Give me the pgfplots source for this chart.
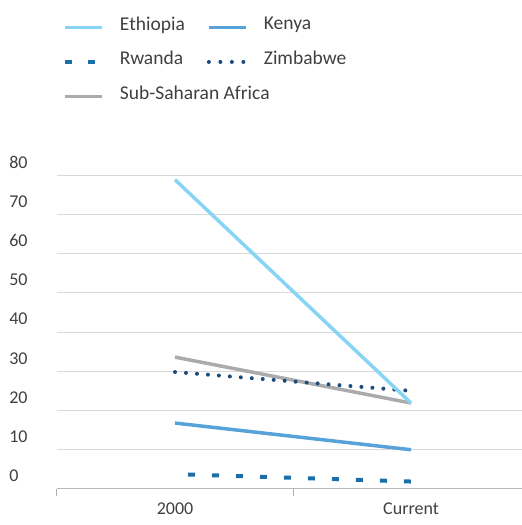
\documentclass[border=0pt]{standalone}
\usepackage{pgfplots}
\pgfplotsset{compat=1.18}
\usepackage{fontspec}
\setmainfont{Carlito}
\definecolor{eth}{HTML}{88D4F4}
\definecolor{ken}{HTML}{58A2DA}
\definecolor{rwa}{HTML}{1B6FA8}
\definecolor{zim}{HTML}{1B4B7C}
\definecolor{ssa}{HTML}{ABABAE}
\definecolor{gridc}{HTML}{D9D9D9}
\definecolor{txt}{HTML}{404040}
\begin{document}
\begin{tikzpicture}[x=1pt,y=1pt]
\useasboundingbox (0,0) rectangle (522,525);
\begin{axis}[
  at={(57pt,36pt)}, anchor=south west,
  scale only axis, width=465pt, height=314pt,
  xmin=-0.5, xmax=1.47, ymin=0, ymax=80,
  ytick={0,10,...,80},
  xtick={0,1}, xticklabels={2000,Current},
  minor xtick={-0.5,0.5,1.5},
  major x tick style={draw=none},
  minor x tick style={draw=gridc!80!black, line width=1pt},
  minor tick length=7pt,
  tick align=outside,
  ytick style={draw=none},
  axis x line*=bottom, axis y line*=left,
  x axis line style={draw=gridc!85!black, line width=1pt},
  y axis line style={draw=none},
  ymajorgrids, grid style={draw=gridc, line width=1pt},
  /pgf/number format/assume math mode=true,
  tick label style={font=\fontsize{18}{20}\selectfont, text=txt},
  yticklabel style={anchor=west, xshift=-47pt, yshift=13pt},
  xticklabel style={yshift=-6pt},
  legend image code/.code={\draw[#1] (0pt,-3pt) -- (37pt,-3pt);},
  legend cell align=left,
  legend columns=2,
  legend style={at={(axis description cs:0.006,1.517)}, anchor=north west,
    draw=none, fill=none, font=\fontsize{19.5}{21}\selectfont, text=txt,
    row sep=15.5pt,
    /tikz/every odd column/.append style={column sep=14pt},
    /tikz/every even column/.append style={column sep=20pt}},
]
\addlegendimage{eth, line width=3.5pt}
\addlegendentry{Ethiopia}
\addlegendimage{ken, line width=3.5pt}
\addlegendentry{Kenya}
\addlegendimage{rwa, line width=4pt, dash pattern=on 7pt off 16pt, dash phase=0pt}
\addlegendentry{Rwanda}
\addlegendimage{zim, line width=4pt, line cap=round, dash pattern=on 0pt off 11.5pt}
\addlegendentry{Zimbabwe}
\addlegendimage{ssa, line width=3.5pt}
\addlegendentry{\makebox[0pt][l]{Sub-Saharan Africa}}
\addplot[ssa, line width=3.5pt, forget plot] coordinates {(0,33.6) (1,21.9)};
\addplot[zim, line width=4pt, line cap=round, dash pattern=on 0pt off 11pt, forget plot] coordinates {(0,29.8) (1,25.0)};
\addplot[rwa, line width=4pt, dash pattern=on 7pt off 17pt, dash phase=11pt, forget plot] coordinates {(0,3.8) (1,1.9)};
\addplot[ken, line width=3.5pt, forget plot] coordinates {(0,16.8) (1,10.0)};
\addplot[eth, line width=3.5pt, forget plot] coordinates {(0,78.8) (1,21.9)};
\end{axis}
\end{tikzpicture}
\end{document}
